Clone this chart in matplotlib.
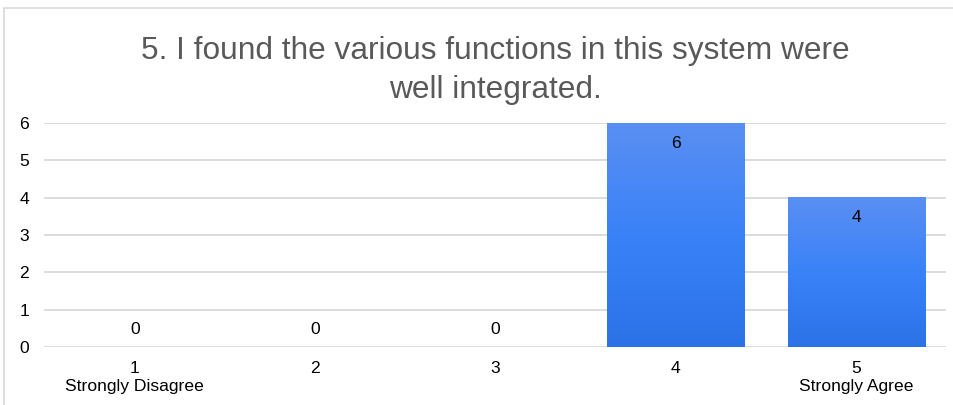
import numpy as np
import matplotlib.pyplot as plt
from matplotlib.colors import LinearSegmentedColormap
from matplotlib.patches import Rectangle

plt.rcParams['font.family'] = ['Liberation Sans', 'DejaVu Sans']

# data
ratings = ["1", "2", "3", "4", "5"]
anchors = ["Strongly Disagree", "", "", "", "Strongly Agree"]
counts = [0, 0, 0, 6, 4]
title = "5. I found the various functions in this system were\nwell integrated."

fig = plt.figure(figsize=(9.54, 4.05), dpi=100)
fig.patches.append(Rectangle((4 / 954, -0.1), 1.2, 1 - 8 / 405 + 0.1,
                             transform=fig.transFigure, fill=False,
                             edgecolor="#d9d9d9", linewidth=1.2))

ax = fig.add_axes([44.5 / 954, 1 - 347 / 405, 902 / 954, 224 / 405])
x = np.arange(len(ratings))
bars = ax.bar(x, counts, width=0.76, color="none", zorder=3)

# vertical gradient inside each bar
grad = LinearSegmentedColormap.from_list("g", ["#2a72e6", "#3a82f8", "#5a8ff2"])
img = np.linspace(0, 1, 256).reshape(-1, 1)
for b in bars:
    h = b.get_height()
    if h > 0:
        x0 = b.get_x()
        ax.imshow(img, extent=(x0, x0 + b.get_width(), 0, h), origin="lower",
                  cmap=grad, aspect="auto", zorder=3)

fs = 12.6
for xi, c in zip(x, counts):
    if c > 0:
        ax.text(xi, c - 0.54, str(c), ha="center", va="center", fontsize=fs, color="black", zorder=4)
    else:
        ax.text(xi, 0.46, str(c), ha="center", va="center", fontsize=fs, color="black", zorder=4)

ax.set_xlim(-0.5, len(ratings) - 0.5)
ax.set_ylim(0, 6)
ax.set_yticks(range(0, 7))
ax.set_xticks(x)
ax.set_xticklabels([f"{r}\n{a}" for r, a in zip(ratings, anchors)], fontsize=fs, linespacing=1.3)
ax.tick_params(axis="both", length=0, labelsize=fs, colors="black")
ax.tick_params(axis="y", pad=18)
ax.tick_params(axis="x", pad=10)
for lab in ax.get_yticklabels():
    lab.set_horizontalalignment("left")
ax.grid(axis="y", color="#d9d9d9", linewidth=1.3, zorder=0)
for s in ax.spines.values():
    s.set_visible(False)

# title centred over the plot area
fig.text(495.5 / 954, 1 - 70.5 / 405, title, ha="center", va="center", fontsize=22.8,
         color="#595959", linespacing=1.38)

fig.savefig("out.png", dpi=100)
